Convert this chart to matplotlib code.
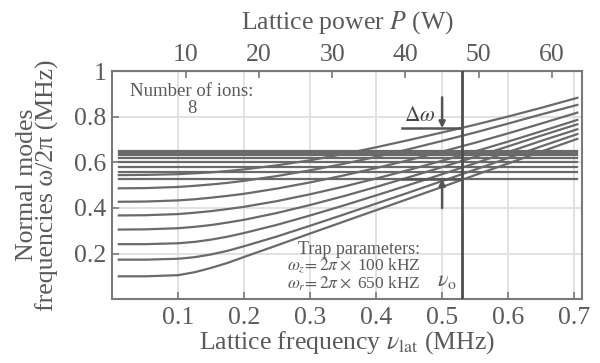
import matplotlib
matplotlib.use("Agg")
import matplotlib.pyplot as plt

# ---------------- data ----------------
nu = [0.01, 0.05, 0.10, 0.125, 0.15, 0.175, 0.20, 0.25, 0.30, 0.35, 0.40,
      0.45, 0.50, 0.55, 0.60, 0.65, 0.705]

axial_1 = [0.100, 0.100, 0.105, 0.118, 0.137, 0.159, 0.185, 0.236, 0.288, 0.339, 0.390,
           0.441, 0.492, 0.544, 0.595, 0.647, 0.703]
axial_2 = [0.173, 0.173, 0.177, 0.184, 0.196, 0.212, 0.232, 0.275, 0.322, 0.370, 0.419,
           0.468, 0.518, 0.568, 0.619, 0.670, 0.724]
axial_3 = [0.241, 0.241, 0.245, 0.251, 0.261, 0.274, 0.290, 0.326, 0.367, 0.410, 0.455,
           0.501, 0.548, 0.596, 0.645, 0.694, 0.745]
axial_4 = [0.305, 0.306, 0.311, 0.317, 0.325, 0.336, 0.348, 0.378, 0.413, 0.451, 0.492,
           0.535, 0.579, 0.624, 0.670, 0.717, 0.767]
axial_5 = [0.367, 0.368, 0.373, 0.379, 0.386, 0.395, 0.405, 0.430, 0.460, 0.493, 0.529,
           0.567, 0.607, 0.648, 0.691, 0.736, 0.786]
axial_6 = [0.427, 0.428, 0.433, 0.438, 0.445, 0.453, 0.462, 0.485, 0.512, 0.542, 0.575,
           0.610, 0.647, 0.686, 0.727, 0.770, 0.818]
axial_7 = [0.486, 0.487, 0.492, 0.497, 0.503, 0.510, 0.519, 0.540, 0.565, 0.593, 0.624,
           0.658, 0.694, 0.731, 0.770, 0.810, 0.852]
axial_8 = [0.544, 0.545, 0.548, 0.552, 0.556, 0.562, 0.569, 0.587, 0.609, 0.636, 0.666,
           0.698, 0.731, 0.765, 0.801, 0.839, 0.883]
axial_modes = [axial_1, axial_2, axial_3, axial_4, axial_5, axial_6, axial_7, axial_8]

radial_modes = [0.650, 0.642, 0.631, 0.617, 0.600, 0.580, 0.556, 0.529]

nu_0 = 0.53
delta_top = 0.750
delta_bottom = 0.527
delta_x = [0.439, nu_0]
arrow_x = 0.50
arrow_top_start = 0.885
arrow_bottom_start = 0.40

x_ticks = [0.1, 0.2, 0.3, 0.4, 0.5, 0.6, 0.7]
y_ticks = [0.2, 0.4, 0.6, 0.8, 1.0]
y_tick_labels = ["0.2", "0.4", "0.6", "0.8", "1"]
p_ticks = [10, 20, 30, 40, 50, 60]
P_PER_NU = 90.0

# ---------------- styling ----------------
plt.rcParams['font.family'] = ['Liberation Serif', 'DejaVu Serif']
plt.rcParams['mathtext.fontset'] = 'stix'

line_col = '#6a6a6a'
text_col = '#5a5a5a'
spine_col = '#7a7a7a'
grid_col = '#e2e2e2'
FS = 18.5

fig = plt.figure(figsize=(6.0, 3.63), dpi=100)
ax = fig.add_axes([0.187, 0.176, 0.783, 0.628])

ax.set_xlim(0, 0.712)
ax.set_ylim(0, 1.0)

ax.set_xticks(x_ticks)
ax.set_xticklabels([f"{t:.1f}" for t in x_ticks])
ax.set_yticks(y_ticks)
ax.set_yticklabels(y_tick_labels)
ax.grid(True, color=grid_col, lw=1.4, zorder=0)
ax.set_axisbelow(True)

for s in ax.spines.values():
    s.set_color(spine_col)
    s.set_linewidth(1.5)

ax.tick_params(axis='x', direction='in', length=5, width=1.2, color=spine_col,
               labelcolor=text_col, labelsize=FS, pad=6)
ax.tick_params(axis='y', direction='in', length=5, width=1.2, color=spine_col,
               labelcolor=text_col, labelsize=FS, pad=4)

for r in radial_modes:
    ax.plot([nu[0], nu[-1]], [r, r], color=line_col, lw=1.6, zorder=3)
for a in axial_modes:
    ax.plot(nu, a, color=line_col, lw=1.6, zorder=3)

ax.axvline(nu_0, color='#4d4d4d', lw=2.0, zorder=4)

# delta omega markers
ax.plot(delta_x, [delta_top, delta_top], color='#555555', lw=1.8, zorder=5)
ax.plot(delta_x, [delta_bottom, delta_bottom], color='#555555', lw=1.8, zorder=5)
ax.annotate('', xy=(arrow_x, delta_top), xytext=(arrow_x, arrow_top_start),
            arrowprops=dict(arrowstyle='-|>', color='#555555', lw=1.8,
                            mutation_scale=9, shrinkA=0, shrinkB=0), zorder=6)
ax.annotate('', xy=(arrow_x, delta_bottom), xytext=(arrow_x, arrow_bottom_start),
            arrowprops=dict(arrowstyle='-|>', color='#555555', lw=1.8,
                            mutation_scale=9, shrinkA=0, shrinkB=0), zorder=6)
ax.text(0.466, 0.80, r'$\Delta\omega$', fontsize=15.5, color='#444444',
        ha='center', va='center', zorder=6)

# annotations
ax.text(0.121, 0.91, 'Number of ions:', fontsize=13.5, color=text_col,
        ha='center', va='center')
ax.text(0.121, 0.835, '8', fontsize=13.5, color=text_col, ha='center', va='center')

ax.text(0.282, 0.218, 'Trap parameters:', fontsize=13, color=text_col,
        ha='left', va='center')
ax.text(0.265, 0.145, r'$\omega_{z}\!=2\pi\times$ 100 kHZ', fontsize=12.5,
        color=text_col, ha='left', va='center')
ax.text(0.265, 0.066, r'$\omega_{r}\!=2\pi\times$ 650 kHZ', fontsize=12.5,
        color=text_col, ha='left', va='center')
ax.text(0.508, 0.078, r'$\nu_{\rm o}$', fontsize=16, color=text_col,
        ha='center', va='center')

ax.set_xlabel(r'Lattice frequency $\nu_{\rm lat}$ (MHz)', fontsize=FS,
              color=text_col, labelpad=0)
ax.set_ylabel('Normal modes\nfrequencies ω/2π (MHz)', fontsize=FS,
              color=text_col, linespacing=0.85, labelpad=11)

# top axis: lattice power
top = ax.secondary_xaxis('top', functions=(lambda x: x * P_PER_NU,
                                           lambda p: p / P_PER_NU))
top.set_xticks(p_ticks)
top.tick_params(direction='in', length=5, width=1.2, color=spine_col,
                labelcolor=text_col, labelsize=FS, pad=4)
top.spines['top'].set_color(spine_col)
top.set_xlabel(r'Lattice power $P$ (W)', fontsize=FS, color=text_col,
               labelpad=11)

fig.savefig('out.png', dpi=100)
